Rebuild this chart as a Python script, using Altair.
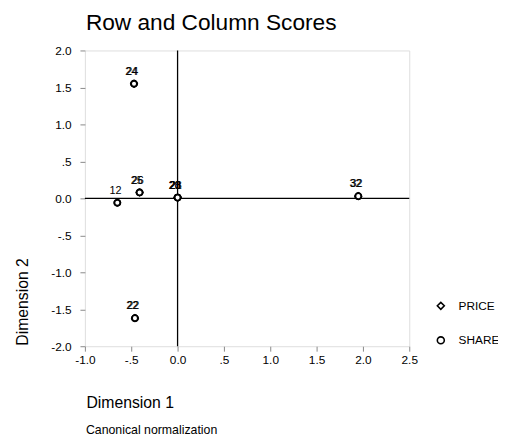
import altair as alt
import pandas as pd

# ---- data ----
price_labels = ["22", "24", "25", "32", "20", "28"]
price_x = [-0.46, -0.47, -0.41, 1.95, 0.0, 0.0]
price_y = [-1.62, 1.55, 0.08, 0.03, 0.01, 0.01]

share_labels = ["12", "22", "24", "26", "32", "21", "23"]
share_x = [-0.65, -0.46, -0.47, -0.41, 1.95, 0.0, 0.0]
share_y = [-0.06, -1.62, 1.55, 0.08, 0.03, 0.01, 0.01]

series_names = ["PRICE", "SHARE"]
series_shapes = ["diamond", "circle"]

x_ticks = [-1.0, -0.5, 0.0, 0.5, 1.0, 1.5, 2.0, 2.5]
x_tick_labels = ["-1.0", "-.5", "0.0", ".5", "1.0", "1.5", "2.0", "2.5"]
y_ticks = [-2.0, -1.5, -1.0, -0.5, 0.0, 0.5, 1.0, 1.5, 2.0]
y_tick_labels = ["-2.0", "-1.5", "-1.0", "-.5", "0.0", ".5", "1.0", "1.5", "2.0"]

chart_title = "Row and Column Scores"
footnote_text = "Canonical normalization"

FONT = "Liberation Sans"


def label_expr(ticks, labels):
    parts = [f"datum.value == {t} ? '{l}'" for t, l in zip(ticks, labels)]
    return " : ".join(parts) + " : ''"


rows = []
for l, x, y in zip(price_labels, price_x, price_y):
    rows.append({"label": l, "series": "PRICE", "x": x, "y": y})
for l, x, y in zip(share_labels, share_x, share_y):
    rows.append({"label": l, "series": "SHARE", "x": x, "y": y})
df = pd.DataFrame(rows)
df_price = df[df.series == "PRICE"]
df_share = df[df.series == "SHARE"]

xscale = alt.Scale(domain=[-1, 2.5], nice=False, zero=False)
yscale = alt.Scale(domain=[-2, 2], nice=False, zero=False)

xaxis = alt.Axis(values=x_ticks, labelExpr=label_expr(x_ticks, x_tick_labels),
                 labelOverlap=False, labelFlush=False, tickCount=len(x_ticks),
                 title="Dimension 1", titleX=1, titleY=62, titleAlign="left",
                 titleBaseline="alphabetic", titleFontSize=16, titleFontWeight="normal",
                 grid=False, domain=False, tickSize=5, labelPadding=4, labelFontSize=12)
yaxis = alt.Axis(values=y_ticks, labelExpr=label_expr(y_ticks, y_tick_labels),
                 labelOverlap=False, labelFlush=False, tickCount=len(y_ticks),
                 title="Dimension 2", titleX=-58, titleY=299, titleAngle=-90,
                 titleAlign="left", titleBaseline="alphabetic", titleFontSize=16,
                 titleFontWeight="normal", grid=False, domain=False, tickSize=5,
                 labelPadding=9, labelFontSize=12)


def X(field):
    return alt.X(field, scale=xscale, axis=xaxis)


def Y(field):
    return alt.Y(field, scale=yscale, axis=yaxis)


zero_df = pd.DataFrame({"v": [0.0]})
vrule = alt.Chart(zero_df).mark_rule(color="black", strokeWidth=1.3).encode(x=X("v:Q"))
hrule = alt.Chart(zero_df).mark_rule(color="black", strokeWidth=1.3).encode(y=Y("v:Q"))

shape_enc = alt.Shape(
    "series:N",
    scale=alt.Scale(domain=series_names, range=series_shapes),
    legend=alt.Legend(title=None, orient="none", legendX=355, legendY=253,
                      symbolSize=50, symbolStrokeWidth=1.6, labelFontSize=12,
                      labelFont=FONT, labelColor="black", labelOffset=12, rowPadding=21),
)

# outline markers for both series (drives the legend)
points = alt.Chart(df).mark_point(filled=False, color="black", strokeWidth=1.9,
                                  size=36, opacity=1).encode(
    x=X("x:Q"), y=Y("y:Q"), shape=shape_enc)
# white-filled circles on top for the SHARE points
share_pts = alt.Chart(df_share).mark_point(shape="circle", filled=True, fill="white",
                                           stroke="black", strokeWidth=1.9, size=36,
                                           opacity=1).encode(x=X("x:Q"), y=Y("y:Q"))

text_price = alt.Chart(df_price).mark_text(
    font=FONT, fontSize=11, color="black", dx=-2.8, dy=-12, baseline="middle").encode(
    x=X("x:Q"), y=Y("y:Q"), text="label:N")
text_share = alt.Chart(df_share).mark_text(
    font=FONT, fontSize=11, color="black", dx=-1.8, dy=-12, baseline="middle").encode(
    x=X("x:Q"), y=Y("y:Q"), text="label:N")

footnote = alt.Chart(zero_df).mark_text(
    font=FONT, fontSize=12.5, color="black", align="left", baseline="alphabetic").encode(
    x=alt.value(1), y=alt.value(389.5), text=alt.value(footnote_text))

title_mark = alt.Chart(zero_df).mark_text(
    font=FONT, fontSize=23, color="black", align="left", baseline="alphabetic").encode(
    x=alt.value(1), y=alt.value(-21), text=alt.value(chart_title))

chart = alt.layer(vrule, hrule, points, share_pts, text_price, text_share,
                  footnote, title_mark).properties(
    width=329, height=300,
    autosize=alt.AutoSizeParams(type="none"),
    padding={"left": 78, "top": 40, "right": 90, "bottom": 90},
).configure_view(stroke="black", strokeWidth=1.3).configure_axis(
    labelFont=FONT, titleFont=FONT, labelColor="black", titleColor="black",
    tickColor="black", tickWidth=1.3
).configure(background="white")

chart.save("out.html", embed_options={"renderer": "svg", "actions": False})
